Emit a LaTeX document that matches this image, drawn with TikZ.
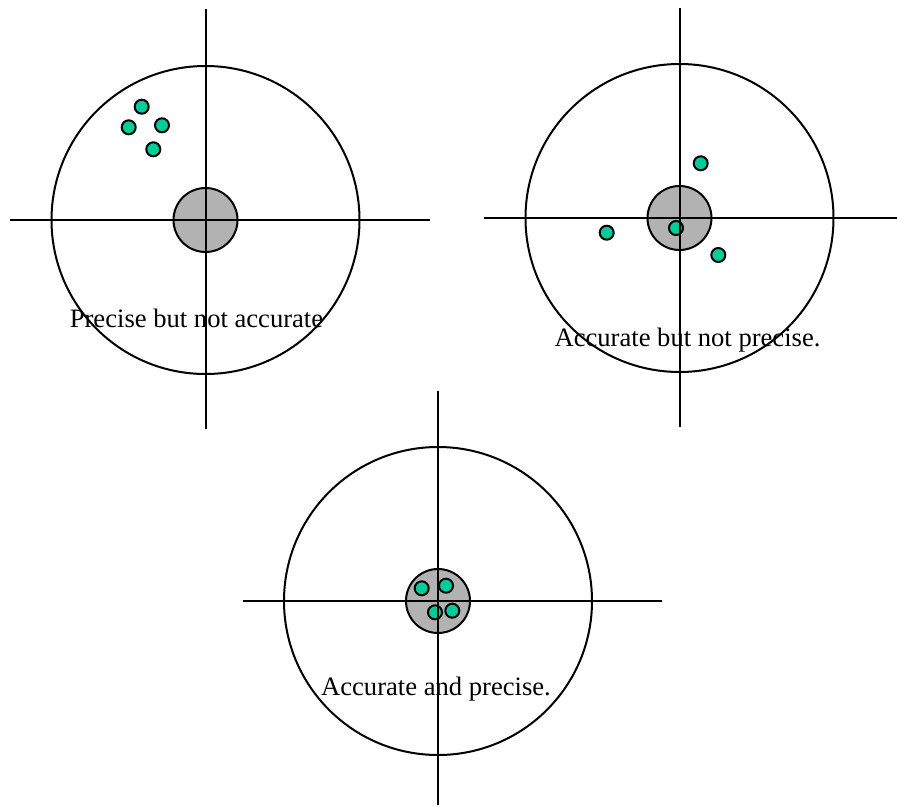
\documentclass[tikz,border=0pt]{standalone}
\usepackage{fontspec}
\setmainfont{Liberation Serif}
\definecolor{dianaGris}{RGB}{178,178,178}
\definecolor{tiroVerde}{RGB}{0,204,153}

\tikzset{
  cruz/.style={line width=2pt, black},
  aro/.style={line width=2pt, draw=black},
  centro/.style={line width=2pt, draw=black, fill=dianaGris},
  tiro/.style={line width=2pt, draw=black, fill=tiroVerde},
  rotulo/.style={anchor=base, font=\fontsize{26.6}{30}\selectfont}
}

\begin{document}
\begin{tikzpicture}[x=1pt, y=-1pt]
  \useasboundingbox (0,0) rectangle (898,808);
  % Parámetros
  \def\R{154}   % radio de la diana
  \def\r{32}    % radio del centro
  \def\t{7}     % radio de cada tiro

  % 1. DIANA SUPERIOR IZQUIERDA
  \node[rotulo] (precisa) at (196.5,327) {Precise but not accurate};
  \draw[aro] (205.5,220) circle (\R);
  \draw[centro] (205.5,220) circle (\r);
  \foreach \px/\py in {141.7/106.7, 128.7/127.3, 162/125.3, 153.3/149.3}
    \filldraw[tiro] (\px,\py) circle (\t);
  \draw[cruz] (10,220) -- (430,220);
  \draw[cruz] (205.5,9) -- (205.5,429);

  % 2. DIANA SUPERIOR DERECHA
  \node[rotulo] (exacta) at (687.5,346) {Accurate but not precise.};
  \draw[aro] (679.5,218) circle (\R);
  \draw[centro] (679.5,218) circle (\r);
  \foreach \px/\py in {700.7/163.3, 606.7/232.7, 676/228, 718.3/255}
    \filldraw[tiro] (\px,\py) circle (\t);
  \draw[cruz] (484,218) -- (897,218);
  \draw[cruz] (679.5,8) -- (679.5,427);

  % 3. DIANA INFERIOR
  \node[rotulo] (ambas) at (436,695) {Accurate and precise.};
  \draw[aro] (438,601) circle (\R);
  \draw[centro] (438,601) circle (\r);
  \foreach \px/\py in {421.7/588.3, 446/585.7, 435/612.3, 452.3/610.7}
    \filldraw[tiro] (\px,\py) circle (\t);
  \draw[cruz] (243,601) -- (662,601);
  \draw[cruz] (438,391) -- (438,805);
\end{tikzpicture}
\end{document}
